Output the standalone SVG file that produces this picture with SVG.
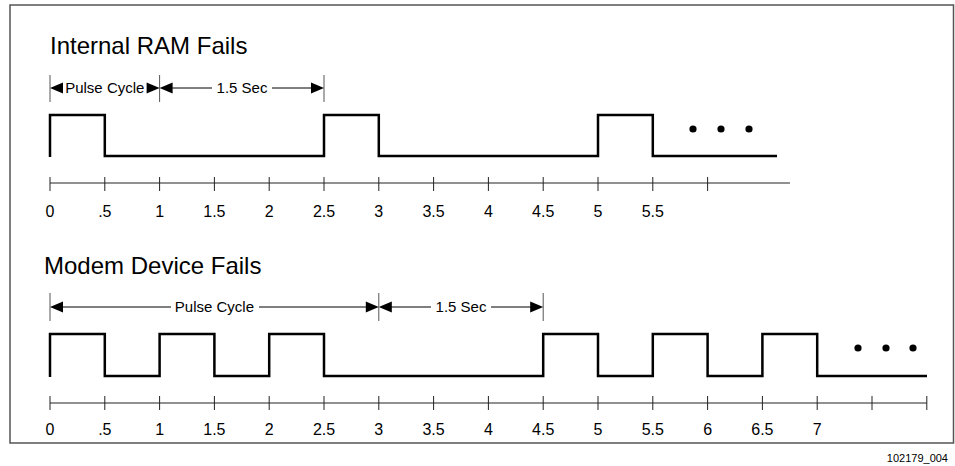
<svg xmlns="http://www.w3.org/2000/svg" width="955" height="466" viewBox="0 0 955 466">
<style>
text{font-family:"Liberation Sans",Arial,sans-serif;fill:#000}
.title{font-size:24px}
.dim{font-size:15px}
.lbl{font-size:16px;text-anchor:middle}
.id{font-size:11px;text-anchor:end}
.wave{fill:none;stroke:#000;stroke-width:2.5;stroke-linejoin:miter}
.axis{fill:none;stroke:#222;stroke-width:1}
.ext{fill:none;stroke:#555;stroke-width:1}
.dl{fill:none;stroke:#000;stroke-width:1}
.ah{fill:#000}
.dot{fill:#000}
</style>
<defs>
<polygon id="al" points="0,0 13,-5.5 13,5.5"/>
<polygon id="ar" points="0,0 -13,-5.5 -13,5.5"/>
</defs>
<rect x="10" y="5" width="943.5" height="438" fill="#fff" stroke="#555" stroke-width="1.5"/>

<g id="ram-title"><text class="title" x="50" y="54">Internal RAM Fails</text></g>

<g id="ram-dimensions">
<path class="ext" d="M50,75V102M159.6,75V102M324,75V102"/>
<use href="#al" class="ah" x="50" y="88"/>
<use href="#ar" class="ah" x="159.6" y="88"/>
<text class="dim" x="104.8" y="93.4" text-anchor="middle">Pulse Cycle</text>
<use href="#al" class="ah" x="159.6" y="88"/>
<path class="dl" d="M171,88H212M272,88H313"/>
<text class="dim" x="242" y="93.4" text-anchor="middle">1.5 Sec</text>
<use href="#ar" class="ah" x="324" y="88"/>
</g>

<g id="ram-waveform">
<path class="wave" d="M50,157V115H104.8V156H324V115H378.8V156H598V115H652.8V156H777"/>
<circle class="dot" cx="693" cy="129" r="3.6"/>
<circle class="dot" cx="721" cy="129" r="3.6"/>
<circle class="dot" cx="749" cy="129" r="3.6"/>
</g>

<g id="ram-axis">
<path class="axis" d="M50,183H790M50,177V191M104.8,177V191M159.6,177V191M214.4,177V191M269.2,177V191M324,177V191M378.8,177V191M433.6,177V191M488.4,177V191M543.2,177V191M598,177V191M652.8,177V191M707.6,177V191"/>
<text class="lbl" x="50" y="217">0</text>
<text class="lbl" x="104.8" y="217">.5</text>
<text class="lbl" x="159.6" y="217">1</text>
<text class="lbl" x="214.4" y="217">1.5</text>
<text class="lbl" x="269.2" y="217">2</text>
<text class="lbl" x="324" y="217">2.5</text>
<text class="lbl" x="378.8" y="217">3</text>
<text class="lbl" x="433.6" y="217">3.5</text>
<text class="lbl" x="488.4" y="217">4</text>
<text class="lbl" x="543.2" y="217">4.5</text>
<text class="lbl" x="598" y="217">5</text>
<text class="lbl" x="652.8" y="217">5.5</text>
</g>

<g id="modem-title"><text class="title" x="44" y="274">Modem Device Fails</text></g>

<g id="modem-dimensions">
<path class="ext" d="M50,293V321M378.8,293V321M543.2,293V321"/>
<use href="#al" class="ah" x="50" y="307"/>
<path class="dl" d="M62,307H171M259,307H367"/>
<text class="dim" x="214.4" y="312.4" text-anchor="middle">Pulse Cycle</text>
<use href="#ar" class="ah" x="378.8" y="307"/>
<use href="#al" class="ah" x="378.8" y="307"/>
<path class="dl" d="M390,307H431M491,307H532"/>
<text class="dim" x="461" y="312.4" text-anchor="middle">1.5 Sec</text>
<use href="#ar" class="ah" x="543.2" y="307"/>
</g>

<g id="modem-waveform">
<path class="wave" d="M50,377V334H104.8V376H159.6V334H214.4V376H269.2V334H324V376H543.2V334H598V376H652.8V334H707.6V376H762.4V334H817.2V376H927"/>
<circle class="dot" cx="858" cy="348" r="3.6"/>
<circle class="dot" cx="886" cy="348" r="3.6"/>
<circle class="dot" cx="913" cy="348" r="3.6"/>
</g>

<g id="modem-axis">
<path class="axis" d="M50,403H926.8M50,396V410M104.8,396V410M159.6,396V410M214.4,396V410M269.2,396V410M324,396V410M378.8,396V410M433.6,396V410M488.4,396V410M543.2,396V410M598,396V410M652.8,396V410M707.6,396V410M762.4,396V410M817.2,396V410M872,396V410M926.8,396V410"/>
<text class="lbl" x="50" y="435">0</text>
<text class="lbl" x="104.8" y="435">.5</text>
<text class="lbl" x="159.6" y="435">1</text>
<text class="lbl" x="214.4" y="435">1.5</text>
<text class="lbl" x="269.2" y="435">2</text>
<text class="lbl" x="324" y="435">2.5</text>
<text class="lbl" x="378.8" y="435">3</text>
<text class="lbl" x="433.6" y="435">3.5</text>
<text class="lbl" x="488.4" y="435">4</text>
<text class="lbl" x="543.2" y="435">4.5</text>
<text class="lbl" x="598" y="435">5</text>
<text class="lbl" x="652.8" y="435">5.5</text>
<text class="lbl" x="707.6" y="435">6</text>
<text class="lbl" x="762.4" y="435">6.5</text>
<text class="lbl" x="817.2" y="435">7</text>
</g>

<g id="figure-id"><text class="id" x="948" y="462">102179_004</text></g>
</svg>
